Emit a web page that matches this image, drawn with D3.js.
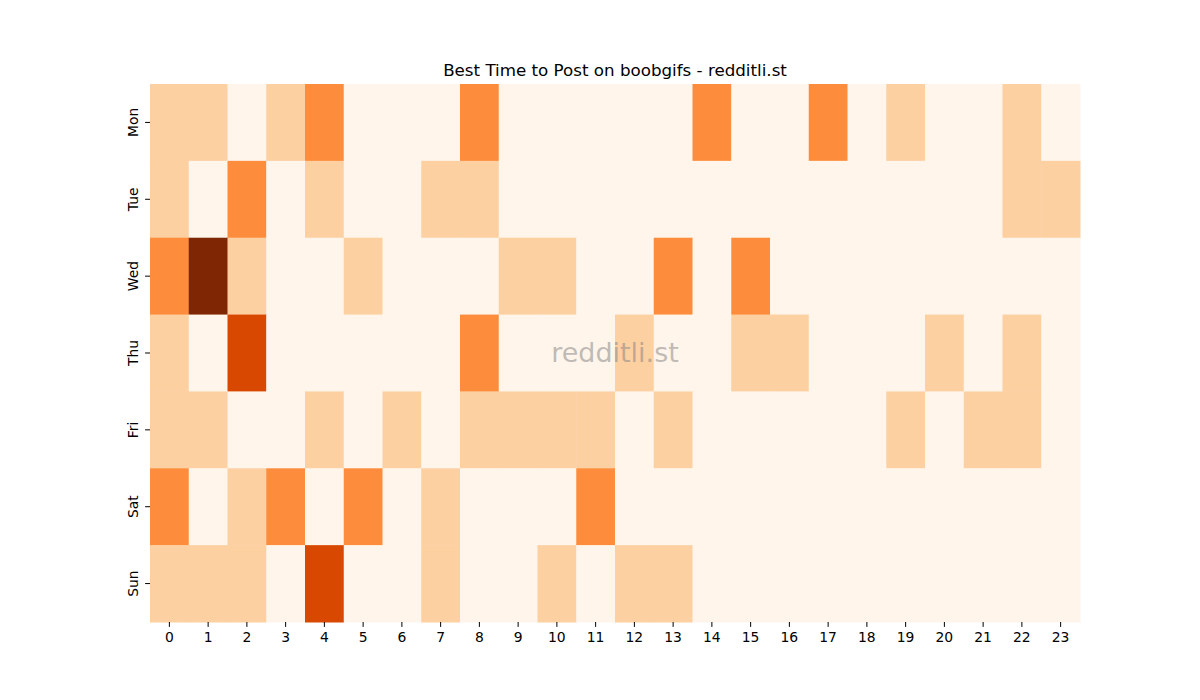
<!DOCTYPE html>
<html>
<head>
<meta charset="utf-8">
<script src="https://cdn.jsdelivr.net/npm/d3@7"></script>
<style>
  body { margin: 0; background: #fff; }
  svg text { font-family: "DejaVu Sans", sans-serif; }
</style>
</head>
<body>
<svg id="chart"></svg>
<script>
// days of week (rows) and hours (columns)
const days = ["Mon", "Tue", "Wed", "Thu", "Fri", "Sat", "Sun"];
const hours = d3.range(24);

// post counts per hour, one array per day
const mon = [1,1,0,1,2,0,0,0,2,0,0,0,0,0,2,0,0,2,0,1,0,0,1,0];
const tue = [1,0,2,0,1,0,0,1,1,0,0,0,0,0,0,0,0,0,0,0,0,0,1,1];
const wed = [2,4,1,0,0,1,0,0,0,1,1,0,0,2,0,2,0,0,0,0,0,0,0,0];
const thu = [1,0,3,0,0,0,0,0,2,0,0,0,1,0,0,1,1,0,0,0,1,0,1,0];
const fri = [1,1,0,0,1,0,1,0,1,1,1,1,0,1,0,0,0,0,0,1,0,1,1,0];
const sat = [2,0,1,2,0,2,0,1,0,0,0,2,0,0,0,0,0,0,0,0,0,0,0,0];
const sun = [1,1,1,0,3,0,0,1,0,0,1,0,1,1,0,0,0,0,0,0,0,0,0,0];
const rows = [mon, tue, wed, thu, fri, sat, sun];

const title = "Best Time to Post on boobgifs - redditli.st";

const width = 1200, height = 700;
const margin = { top: 84, right: 120, bottom: 78, left: 150 };
const innerW = width - margin.left - margin.right;
const innerH = height - margin.top - margin.bottom;

const svg = d3.select("#chart")
    .attr("width", width)
    .attr("height", height);

const chart = svg.append("g")
    .attr("transform", `translate(${margin.left},${margin.top})`);

const x = d3.scaleBand().domain(hours).range([0, innerW]);
const y = d3.scaleBand().domain(days).range([0, innerH]);

const color = d3.scaleLinear()
    .domain([0, 1, 2, 3, 4])
    .range(["#fff5eb", "#fdd0a2", "#fd8d3c", "#d94801", "#7f2704"]);

// flatten into cells
const cells = [];
rows.forEach((r, i) => r.forEach((v, h) => cells.push({ day: days[i], hour: h, value: v })));

chart.selectAll(".cell")
    .data(cells)
    .join("rect")
      .attr("class", "cell")
      .attr("x", d => x(d.hour))
      .attr("y", d => y(d.day))
      .attr("width", x.bandwidth() + 0.5)
      .attr("height", y.bandwidth() + 0.5)
      .attr("fill", d => color(d.value));

// X axis
const xAxis = chart.append("g")
    .attr("transform", `translate(0,${innerH})`)
    .call(d3.axisBottom(x).tickSize(4.9).tickPadding(5));
xAxis.select(".domain").remove();
xAxis.selectAll("text").style("font-size", "13.9px").attr("fill", "#000");
xAxis.selectAll("line").attr("stroke", "#000").attr("stroke-width", 1);

// Y axis
const yAxis = chart.append("g")
    .call(d3.axisLeft(y).tickSize(4.9).tickPadding(5));
yAxis.select(".domain").remove();
yAxis.selectAll("line").attr("stroke", "#000").attr("stroke-width", 1);
yAxis.selectAll("text")
    .style("font-size", "13.9px")
    .attr("fill", "#000")
    .attr("dy", null)
    .attr("x", null)
    .attr("text-anchor", "middle")
    .attr("transform", "translate(-12,0) rotate(-90)");

// title
svg.append("text")
    .attr("x", margin.left + innerW / 2)
    .attr("y", margin.top - 8)
    .attr("text-anchor", "middle")
    .style("font-size", "16.7px")
    .attr("fill", "#000")
    .text(title);

// watermark
svg.append("text")
    .attr("x", margin.left + innerW / 2)
    .attr("y", margin.top + innerH / 2 + 9)
    .attr("text-anchor", "middle")
    .style("font-size", "27px")
    .attr("fill", "#808080")
    .attr("fill-opacity", 0.5)
    .text("redditli.st");
</script>
</body>
</html>
